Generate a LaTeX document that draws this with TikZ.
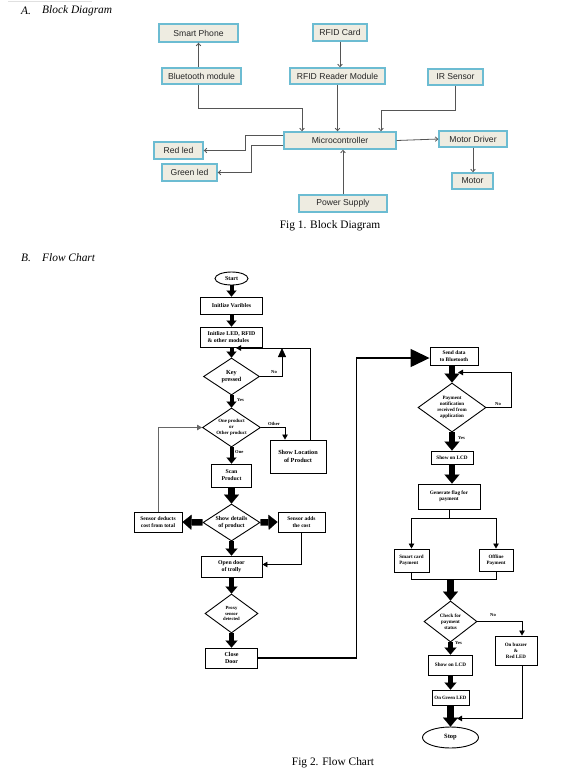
\documentclass[tikz,border=0pt]{standalone}
\usepackage{fontspec}
\setmainfont{Liberation Serif}
\newfontfamily\arialf{Liberation Sans}
\usetikzlibrary{arrows.meta,shapes.geometric,calc}
\definecolor{bborder}{HTML}{6CBCD2}
\definecolor{bfill}{HTML}{EEECE1}
\definecolor{bline}{HTML}{555555}
\begin{document}
\begin{tikzpicture}[x=1pt,y=-1pt,
  txt/.style={inner sep=0pt},
  head/.style={inner sep=0pt, anchor=west, font=\itshape\fontsize{11.4}{13}\selectfont},
  figcap/.style={inner sep=0pt, font=\fontsize{11.4}{13}\selectfont},
  bbox/.style={draw=bborder, fill=bfill, line width=1.4pt, inner sep=0pt, text=black!85,
    font=\arialf\fontsize{8.6}{10}\selectfont},
  bconn/.style={draw=bline, line width=0.8pt, -{Straight Barb[length=2.5pt,width=4.5pt]}},
  flowbox/.style={draw=black, fill=white, line width=0.9pt, inner sep=0pt, align=center,
    font=\bfseries\fontsize{5.8}{6.8}\selectfont},
  flowdia/.style={shape=diamond, draw=black, fill=white, line width=0.9pt, inner sep=0pt, align=center,
    font=\bfseries\fontsize{5}{6}\selectfont},
  flowell/.style={shape=ellipse, draw=black, fill=white, line width=0.9pt, inner sep=0pt,
    font=\bfseries\fontsize{6}{7}\selectfont},
  lbl/.style={inner sep=0pt, font=\bfseries\fontsize{4.6}{5}\selectfont},
  fline/.style={draw=black, line width=0.8pt},
  farrow/.style={draw=black, line width=4pt, -{Triangle[length=6pt,width=10pt,line width=0.1pt]}},
  farrowm/.style={draw=black, line width=5pt, -{Triangle[length=7pt,width=12pt,line width=0.1pt]}},
  farrowbig/.style={draw=black, line width=6.5pt, -{Triangle[length=9pt,width=15pt,line width=0.1pt]}},
  tarrow/.style={draw=black, line width=0.8pt, -{Triangle[length=5pt,width=5.5pt]}},
  tarrowbig/.style={draw=black, line width=0.8pt, -{Triangle[length=9pt,width=8pt]}},
  linkarrow/.style={draw=black, line width=1.4pt, -{Triangle[length=19pt,width=18pt]}}
]
\useasboundingbox (0,0) rectangle (568,780);
\fill[white] (0,0) rectangle (568,780);
\draw[black!12, line width=0.5pt] (8,1) -- (92,1);

% ---------- Block diagram ----------
\node[head] (ha) at (21,11) {A.};
\node[head] (hat) at (42,11) {Block Diagram};

\node[bbox, minimum width=79pt, minimum height=18pt] (sp) at (198.5,33) {Smart Phone};
\node[bbox, minimum width=54pt, minimum height=17pt] (rc) at (340,32.5) {RFID Card};
\node[bbox, minimum width=79pt, minimum height=16pt] (bt) at (201.5,76) {Bluetooth module};
\node[bbox, minimum width=95pt, minimum height=16pt] (rr) at (337.5,76) {RFID Reader Module};
\node[bbox, minimum width=55pt, minimum height=16pt] (ir) at (455.5,77) {IR Sensor};
\node[bbox, minimum width=112pt, minimum height=17pt] (mc) at (340,140.5) {Microcontroller};
\node[bbox, minimum width=49pt, minimum height=17pt] (rl) at (178.5,150.5) {Red led};
\node[bbox, minimum width=55pt, minimum height=17pt] (gl) at (189.5,172.5) {Green led};
\node[bbox, minimum width=68pt, minimum height=16pt] (md) at (473,139) {Motor Driver};
\node[bbox, minimum width=41pt, minimum height=16pt] (mo) at (472.5,181) {Motor};
\node[bbox, minimum width=88pt, minimum height=17pt] (ps) at (343,203.5) {Power Supply};

\draw[bconn] (bt.north -| sp.south) -- (sp.south);
\draw[bconn] (rc.south) -- (rc.south |- rr.north);
\draw[bconn] (bt.south -| sp.south) -- ++(0,24) -| ($(mc.north)+(-38,0)$);
\draw[bconn] (rr.south) -- (rr.south |- mc.north);
\draw[bconn] (ir.south) -- ++(0,25) -| ($(mc.north)+(41,0)$);
\draw[bconn] ($(mc.west)+(0,-5.5)$) -| ($(rl.east)+(42,0)$) -- (rl.east);
\draw[bconn] ($(mc.west)+(0,4.5)$) -| ($(gl.east)+(34,0)$) -- (gl.east);
\draw[bconn] (mc.east) -- (md.west);
\draw[bconn] (md.south) -- (md.south |- mo.north);
\draw[bconn] (ps.north) -- (ps.north |- mc.south);

\node[figcap] (cap1) at (330,226) {Fig 1. Block Diagram};

% ---------- Flow chart ----------
\node[head] (hb) at (21,258) {B.};
\node[head] (hbt) at (42,258) {Flow Chart};

\node[flowell, minimum width=33pt, minimum height=13pt] (start) at (231.5,278.5) {Start};
\node[flowbox, minimum width=62pt, minimum height=17pt] (iv) at (231.5,305.5) {Initlize Varibles};
\node[flowbox, align=left, minimum width=62pt, minimum height=20pt] (il) at (231.5,337) {Initlize LED, RFID\\\& other modules};
\node[flowdia, aspect=1.51, minimum width=56pt, minimum height=37pt, font=\bfseries\fontsize{6.2}{7.4}\selectfont] (kp) at (231.5,376.5) {Key\\pressed};
\node[flowdia, aspect=1.49, minimum width=58pt, minimum height=39pt, font=\bfseries\fontsize{4.9}{5.9}\selectfont] (op) at (231.5,427.5) {One product\\or\\Other product};
\node[flowbox, minimum width=56pt, minimum height=33pt, font=\bfseries\fontsize{6.2}{7.6}\selectfont] (sl) at (298,456.5) {Show Location\\of Product};
\node[flowbox, minimum width=40pt, minimum height=23pt] (scan) at (231.5,475.5) {Scan\\Product};
\node[flowdia, aspect=1.54, minimum width=57pt, minimum height=37pt, font=\bfseries\fontsize{5.9}{7}\selectfont] (sd) at (231.5,522.5) {Show details\\of product};
\node[flowbox, minimum width=48pt, minimum height=20pt, font=\bfseries\fontsize{5.5}{6.5}\selectfont] (sdc) at (158,522) {Sensor deducts\\cost from total};
\node[flowbox, minimum width=47pt, minimum height=20pt, font=\bfseries\fontsize{5.5}{6.5}\selectfont] (sac) at (301.5,522) {Sensor adds\\the cost};
\node[flowbox, minimum width=61pt, minimum height=21pt] (od) at (231.5,566.5) {Open door\\of trolly};
\node[flowdia, aspect=1.36, minimum width=53pt, minimum height=39pt, font=\bfseries\fontsize{4.7}{5.7}\selectfont] (px) at (231.5,613.5) {Proxy\\sensor\\detected};
\node[flowbox, minimum width=52pt, minimum height=20pt, font=\bfseries\fontsize{6}{7.6}\selectfont] (cd) at (231.5,658) {Close\\Door};

\node[flowbox, minimum width=48pt, minimum height=18pt, font=\bfseries\fontsize{5.4}{6.6}\selectfont] (sdb) at (454,356) {Send data\\to Bluetooth};
\node[flowdia, aspect=1.39, minimum width=68pt, minimum height=49pt] (pn) at (452,407.5) {Payment\\notification\\received from\\application};
\node[flowbox, minimum width=42pt, minimum height=13pt, font=\bfseries\fontsize{5.2}{6}\selectfont] (lcd1) at (452,457.5) {Show on LCD};
\node[flowbox, minimum width=62pt, minimum height=25pt, font=\bfseries\fontsize{5.2}{6.4}\selectfont] (gf) at (449,496.5) {Generate flag for\\payment};
\node[flowbox, align=left, minimum width=35pt, minimum height=23pt, font=\bfseries\fontsize{5}{6.4}\selectfont] (scp) at (411.5,560.5) {Smart card\\Payment};
\node[flowbox, minimum width=34pt, minimum height=22pt, font=\bfseries\fontsize{5}{6.4}\selectfont] (ofp) at (496,560) {Offline\\Payment};
\node[flowdia, aspect=1.29, minimum width=53pt, minimum height=41pt] (cps) at (450.5,621.5) {Check for\\payment\\status};
\node[flowbox, minimum width=42pt, minimum height=29pt, font=\bfseries\fontsize{5}{6.2}\selectfont] (ob) at (516,650.5) {On buzzer\\\&\\Red LED};
\node[flowbox, minimum width=44pt, minimum height=20pt, font=\bfseries\fontsize{5.2}{6}\selectfont] (lcd2) at (450.5,665) {Show on LCD};
\node[flowbox, minimum width=37pt, minimum height=15pt, font=\bfseries\fontsize{4.9}{6}\selectfont] (og) at (450.5,697.5) {On Green LED};
\node[flowell, minimum width=56pt, minimum height=21pt, font=\bfseries\fontsize{6.5}{7.5}\selectfont] (stop) at (450.5,737.5) {Stop};

% main arrows left column
\draw[farrow] (start.south) -- (iv.north);
\draw[farrow] (iv.south) -- (il.north);
\draw[farrow] (il.south) -- (kp.north);
\draw[farrow] (kp.south) -- (op.north);
\draw[farrow] (op.south) -- (scan.north);
\draw[farrowbig] (scan.south) -- (sd.north);
\draw[farrowbig] (sd.west) -- (sdc.east);
\draw[farrowbig] (sd.east) -- (sac.west);
\draw[farrowm] (sd.south) -- (od.north);
\draw[farrowm] (od.south) -- (px.north);
\draw[farrowm] (px.south) -- (cd.north);

% loops left column
\coordinate (j1) at (236,348);
\draw[tarrow] ($(sl.north)+(12,0)$) |- (j1);
\draw[tarrowbig] (kp.east) -| ($(j1)+(46,0)$);
\draw[tarrow] (op.east) -| ($(sl.north)+(-13,0)$);
\draw[tarrow, draw=black!60] (sdc.north) |- (op.west);
\draw[tarrow] (sac.south) |- ($(od.east)+(0,-2)$);

\node[lbl] (lno1) at (274,372) {No};
\node[lbl, anchor=west] (lyes1) at (237,400.5) {Yes};
\node[lbl] (loth) at (274,424) {Other};
\node[lbl, anchor=west] (lone) at (235,452) {One};

% link to right column
\draw[linkarrow] (cd.east) -| ($(sdb.west)+(-73,2)$) -- ($(sdb.west)+(0,2)$);

% right column
\draw[farrowbig] (pn.north |- sdb.south) -- (pn.north);
\draw[tarrow] (pn.east) -| ($(sdb.south)+(57,7)$) -- ($(sdb.south)+(4,7)$);
\node[lbl] (lno2) at (498,404.5) {No};
\draw[farrowbig] (pn.south) -- (lcd1.north);
\node[lbl, anchor=west] (lyes2) at (458,438) {Yes};
\draw[farrowbig] (lcd1.south) -- (lcd1.south |- gf.north);
\draw[fline] (gf.south) -- ++(0,9) coordinate (g1);
\draw[tarrow] (g1) -| (scp.north);
\draw[tarrow] (g1) -| (ofp.north);
\draw[fline] (scp.south) -- ++(0,7) coordinate (m1) -| (ofp.south);
\draw[farrowbig] (cps.north |- m1) -- (cps.north);
\draw[tarrow] (cps.east) -| ($(ob.north)+(6,0)$);
\node[lbl] (lno3) at (493,615) {No};
\draw[farrowm] (cps.south) -- (lcd2.north);
\node[lbl, anchor=west] (lyes3) at (455,643) {Yes};
\draw[farrowm] (lcd2.south) -- (og.north);
\draw[farrowbig] (og.south) -- (stop.north);
\draw[tarrow] ($(ob.south)+(6,0)$) |- ($(og.south)+(6.5,13)$);

\node[figcap] (cap2) at (333,763) {Fig 2. Flow Chart};
\end{tikzpicture}
\end{document}
